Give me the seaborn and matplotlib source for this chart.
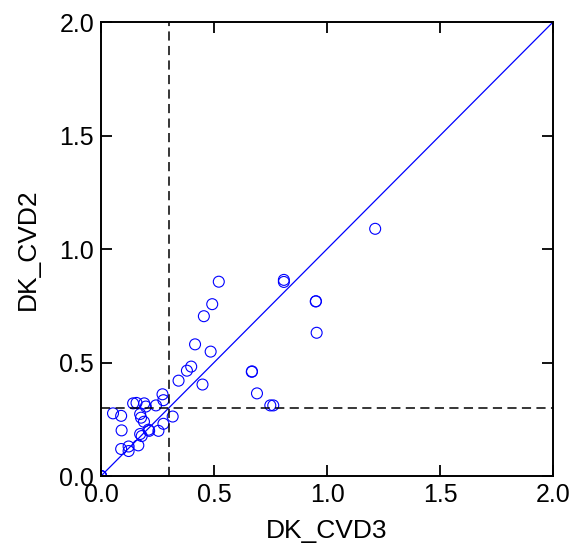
import matplotlib
matplotlib.use("Agg")
import matplotlib.pyplot as plt
import seaborn as sns
import pandas as pd

# values
dk_cvd3 = [0.0, 0.0, 0.0, 0.053, 0.089, 0.091, 0.089, 0.122, 0.122, 0.142, 0.157,
           0.165, 0.173, 0.177, 0.173, 0.180, 0.191, 0.198, 0.190, 0.210, 0.213,
           0.243, 0.254, 0.272, 0.276, 0.276, 0.317, 0.343, 0.380, 0.399, 0.416,
           0.449, 0.455, 0.485, 0.492, 0.521, 0.667, 0.668, 0.690, 0.749, 0.762,
           0.809, 0.809, 0.950, 0.951, 0.954, 1.213]
dk_cvd2 = [0.0, 0.0, 0.0, 0.276, 0.265, 0.201, 0.119, 0.130, 0.110, 0.320, 0.322,
           0.135, 0.273, 0.257, 0.185, 0.176, 0.320, 0.306, 0.239, 0.204, 0.199,
           0.311, 0.199, 0.360, 0.334, 0.230, 0.262, 0.420, 0.464, 0.482, 0.580,
           0.403, 0.704, 0.548, 0.757, 0.856, 0.459, 0.461, 0.364, 0.311, 0.311,
           0.864, 0.855, 0.769, 0.770, 0.631, 1.089]
one_to_one = [0, 2]
threshold = 0.3
ticks = [0.0, 0.5, 1.0, 1.5, 2.0]

df = pd.DataFrame({"DK_CVD3": dk_cvd3, "DK_CVD2": dk_cvd2})

sns.set_style("ticks")
plt.rcParams["font.family"] = ["Liberation Sans", "DejaVu Sans"]

fig = plt.figure(figsize=(5.84, 5.45), dpi=100)
ax = fig.add_axes([0.173, 0.1266, 0.774, 0.833])

sns.lineplot(x=one_to_one, y=one_to_one, color="#0000ff", linewidth=0.9, ax=ax)
ax.axvline(threshold, color="black", linestyle=(0, (6, 3.5)), linewidth=1.1)
ax.axhline(threshold, color="black", linestyle=(0, (6, 3.5)), linewidth=1.1)
sns.scatterplot(data=df, x="DK_CVD3", y="DK_CVD2", marker="o", s=62,
                facecolor="none", edgecolor="#0000ff", linewidth=0.8, ax=ax)

ax.set_xlim(0, 2)
ax.set_ylim(0, 2)
ax.set_xticks(ticks)
ax.set_yticks(ticks)
ax.set_xticklabels([f"{t:.1f}" for t in ticks])
ax.set_yticklabels([f"{t:.1f}" for t in ticks])
ax.tick_params(direction="in", length=8, width=1.3, labelsize=18, pad=5,
               top=True, right=True, colors="black")
for sp in ax.spines.values():
    sp.set_linewidth(1.4)
    sp.set_color("black")
ax.set_xlabel("DK_CVD3", fontsize=19, labelpad=9, color="black")
ax.set_ylabel("DK_CVD2", fontsize=19, labelpad=14, color="black")

fig.savefig("out.png", dpi=100)
